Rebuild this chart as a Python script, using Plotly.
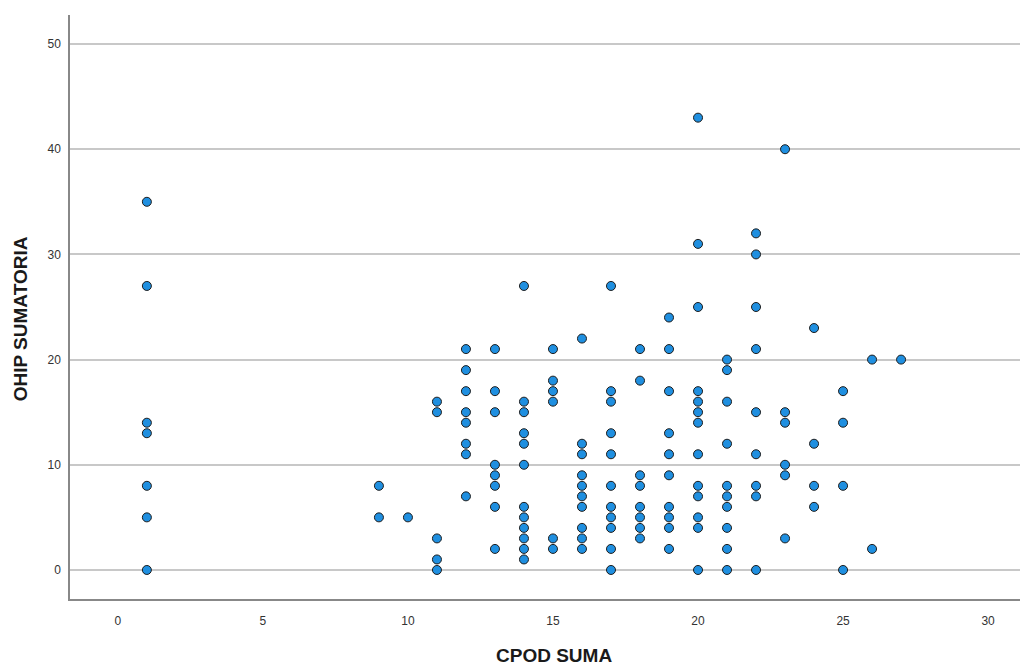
import plotly.graph_objects as go

# CPOD SUMA (x) and OHIP SUMATORIA (y) for each case, grouped by CPOD value
cpod = (
    [1] * 7
    + [9] * 2
    + [10]
    + [11] * 5
    + [12] * 8
    + [13] * 8
    + [14] * 12
    + [15] * 6
    + [16] * 10
    + [17] * 11
    + [18] * 8
    + [19] * 10
    + [20] * 13
    + [21] * 10
    + [22] * 9
    + [23] * 6
    + [24] * 4
    + [25] * 4
    + [26] * 2
    + [27]
)
ohip = (
    [35, 27, 14, 13, 8, 5, 0]                       # 1
    + [8, 5]                                        # 9
    + [5]                                           # 10
    + [16, 15, 3, 1, 0]                             # 11
    + [21, 19, 17, 15, 14, 12, 11, 7]               # 12
    + [21, 17, 15, 10, 9, 8, 6, 2]                  # 13
    + [27, 16, 15, 13, 12, 10, 6, 5, 4, 3, 2, 1]    # 14
    + [21, 18, 17, 16, 3, 2]                        # 15
    + [22, 12, 11, 9, 8, 7, 6, 4, 3, 2]             # 16
    + [27, 17, 16, 13, 11, 8, 6, 5, 4, 2, 0]        # 17
    + [21, 18, 9, 8, 6, 5, 4, 3]                    # 18
    + [24, 21, 17, 13, 11, 9, 6, 5, 4, 2]           # 19
    + [43, 31, 25, 17, 16, 15, 14, 11, 8, 7, 5, 4, 0]  # 20
    + [20, 19, 16, 12, 8, 7, 6, 4, 2, 0]            # 21
    + [32, 30, 25, 21, 15, 11, 8, 7, 0]             # 22
    + [40, 15, 14, 10, 9, 3]                        # 23
    + [23, 12, 8, 6]                                # 24
    + [17, 14, 8, 0]                                # 25
    + [20, 2]                                       # 26
    + [20]                                          # 27
)

x_ticks = [0, 5, 10, 15, 20, 25, 30]
y_ticks = [0, 10, 20, 30, 40, 50]

fig = go.Figure(
    go.Scatter(
        x=cpod,
        y=ohip,
        mode="markers",
        marker=dict(
            size=9,
            color="#1f8fe0",
            line=dict(color="#1c1c1c", width=1),
        ),
        hoverinfo="x+y",
    )
)

axis_font = dict(family="Liberation Sans, Arial, sans-serif", size=12, color="#333333")

fig.update_layout(
    width=1022,
    height=667,
    margin=dict(l=70, r=2, t=15, b=68),
    paper_bgcolor="white",
    plot_bgcolor="white",
    showlegend=False,
    xaxis=dict(
        range=[-1.65, 31.1],
        tickvals=x_ticks,
        ticktext=[str(v) for v in x_ticks],
        showgrid=False,
        zeroline=False,
        showline=True,
        linecolor="#888888",
        linewidth=1.5,
        ticks="outside",
        ticklen=10,
        tickcolor="rgba(0,0,0,0)",
        tickfont=dict(family="Liberation Sans Narrow, Arial Narrow, Liberation Sans, sans-serif",
                      size=12, color="#333333"),
    ),
    yaxis=dict(
        range=[-2.76, 52.76],
        tickvals=y_ticks,
        ticktext=[str(v) for v in y_ticks],
        showgrid=True,
        gridcolor="#c8c8c8",
        gridwidth=1.5,
        zeroline=False,
        showline=True,
        linecolor="#888888",
        linewidth=1.5,
        ticks="outside",
        ticklen=5,
        tickcolor="rgba(0,0,0,0)",
        tickfont=axis_font,
    ),
    annotations=[
        dict(
            text="<b>CPOD SUMA</b>",
            x=0.509, y=0, xref="paper", yref="paper",
            xanchor="center", yanchor="middle", yshift=-56,
            showarrow=False,
            font=dict(family="Liberation Sans Narrow, Arial Narrow, Liberation Sans, sans-serif",
                      size=19, color="#1a1a1a"),
        ),
        dict(
            text="<b>OHIP SUMATORIA</b>",
            x=0, y=0.479, xref="paper", yref="paper",
            xanchor="center", yanchor="middle", xshift=-50,
            textangle=-90,
            showarrow=False,
            font=dict(family="Liberation Sans Narrow, Arial Narrow, Liberation Sans, sans-serif",
                      size=19, color="#1a1a1a"),
        ),
    ],
)

fig.write_html("out.html")
